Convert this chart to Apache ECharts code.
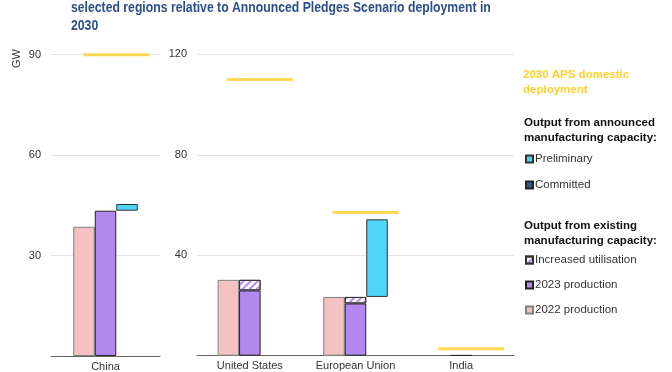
<!DOCTYPE html>
<html><head><meta charset="utf-8">
<script src="https://cdn.jsdelivr.net/npm/echarts@6/dist/echarts.min.js"></script>
<style>html,body{margin:0;padding:0;background:#fff}#c{width:672px;height:372px}</style>
</head><body><div id="c"></div>
<script>
const regions = ['China', 'United States', 'European Union', 'India'];
const prod2022 = [38.6, 30.2, 23.4, 0];
const prod2023 = [43.4, 26.0, 20.8, 0.2];
const increasedUtil = [0, 4.2, 2.6, 0];
const committed = [0, 0, 0, 0];
const preliminary = [2.0, 0, 30.9, 0];
const aps2030 = [90, 110, 57, 2.8];
const leftTicks = [0, 30, 60, 90];
const rightTicks = [0, 40, 80, 120];

const FONT = '"Liberation Sans", Arial, sans-serif';
const base = prod2023.map((v, i) => (preliminary[i] || committed[i]) ? +(v + increasedUtil[i]).toFixed(2) : 0);

const chart = echarts.init(document.getElementById('c'), null, {renderer: 'canvas'});

function part(arr, g) { return g === 0 ? arr.slice(0, 1) : arr.slice(1); }
function nz(arr) { return arr.map(v => v === 0 ? '-' : v); }

const styles = {
  p22: {color: '#f5c2c2', borderColor: '#808080', borderWidth: 1},
  p23: {color: '#b388ee', borderColor: '#222', borderWidth: 1},
  inc: {color: '#ffffff', borderColor: '#333', borderWidth: 1,
        decal: {symbol: 'rect', symbolSize: 1, color: '#b388ee', dashArrayX: [1, 0], dashArrayY: [2, 3], rotation: -Math.PI / 4}},
  com: {color: '#2f5597', borderColor: '#222', borderWidth: 1},
  pre: {color: '#4dd5fb', borderColor: '#333', borderWidth: 1}
};

const series = [];
[0, 1].forEach(g => {
  const common = {type: 'bar', xAxisIndex: g, yAxisIndex: g, barWidth: 21.5, barGap: '0%'};
  series.push(Object.assign({}, common, {name: '2022 production', stack: 'a' + g, data: nz(part(prod2022, g)), itemStyle: styles.p22}));
  series.push(Object.assign({}, common, {name: '2023 production', stack: 'b' + g, data: nz(part(prod2023, g)), itemStyle: styles.p23}));
  series.push(Object.assign({}, common, {name: 'Increased utilisation', stack: 'b' + g,
    data: nz(part(increasedUtil, g)), itemStyle: styles.inc}));
  series.push(Object.assign({}, common, {name: 'base', stack: 'c' + g, data: part(base, g),
    itemStyle: {color: 'rgba(0,0,0,0)', borderWidth: 0}, silent: true}));
  series.push(Object.assign({}, common, {name: 'Committed', stack: 'c' + g,
    data: nz(part(committed, g)), itemStyle: styles.com}));
  series.push(Object.assign({}, common, {name: 'Preliminary', stack: 'c' + g,
    data: nz(part(preliminary, g)), itemStyle: styles.pre}));
  series.push({type: 'scatter', name: '2030 APS domestic deployment', xAxisIndex: g, yAxisIndex: g,
    data: part(aps2030, g), symbol: 'rect', symbolSize: [66, 3], symbolOffset: [g === 0 ? 11 : 10, 0],
    itemStyle: {color: '#ffd02a'}, z: 5});
});

const axisLabel = {color: '#333', fontSize: 11, fontFamily: FONT};
const titleStyle = {fontFamily: FONT, fontWeight: 'bold', fontSize: 15, fill: '#2a4f8c'};
const headStyle = {fontFamily: FONT, fontWeight: 'bold', fontSize: 11.5, fill: '#111', lineHeight: 15};
const legText = {color: '#333', fontSize: 11.5, fontFamily: FONT, padding: [0, 0, 0, -3]};

chart.setOption({
  animation: false,
  grid: [
    {left: 51, top: 54.7, width: 109, height: 304.6},
    {left: 197, top: 54.3, width: 317, height: 301.4}
  ],
  xAxis: [0, 1].map(g => ({type: 'category', gridIndex: g, data: part(regions, g),
    axisTick: {show: false}, axisLine: {lineStyle: {color: '#666', width: 1}},
    axisLabel: Object.assign({}, axisLabel, {margin: 5})})),
  yAxis: [0, 1].map(g => {
    const t = g === 0 ? leftTicks : rightTicks;
    return {type: 'value', gridIndex: g, min: t[0], max: t[t.length - 1], interval: t[1] - t[0],
      axisLine: {show: false}, axisTick: {show: false},
      splitLine: {lineStyle: {color: '#e3e3e3', width: 1}},
      axisLabel: Object.assign({}, axisLabel, {margin: 10, formatter: v => v === 0 ? '' : v})};
  }),
  legend: [
    {orient: 'vertical', left: 525, top: 153, padding: 0, itemWidth: 7, itemHeight: 7, itemGap: 14,
      data: ['Preliminary', 'Committed'], icon: 'rect', selectedMode: false, textStyle: legText},
    {orient: 'vertical', left: 525, top: 254, padding: 0, itemWidth: 7, itemHeight: 7, itemGap: 13,
      data: ['Increased utilisation', '2023 production', '2022 production'], icon: 'rect', selectedMode: false, textStyle: legText}
  ],
  graphic: [
    {type: 'text', x: 71, y: -1, scaleX: 0.815, style: Object.assign({text: 'selected regions relative to Announced Pledges Scenario deployment in\n2030', lineHeight: 18}, titleStyle)},
    {type: 'text', x: 11, y: 68, rotation: Math.PI / 2, style: {text: 'GW', fontFamily: FONT, fontSize: 11, fill: '#333'}},
    {type: 'text', left: 523, top: 67, style: {text: '2030 APS domestic\ndeployment', fontFamily: FONT, fontWeight: 'bold', fontSize: 11.5, fill: '#ffcf2a', lineHeight: 15}},
    {type: 'text', left: 524, top: 115, style: Object.assign({text: 'Output from announced\nmanufacturing capacity:'}, headStyle)},
    {type: 'text', left: 524, top: 218, style: Object.assign({text: 'Output from existing\nmanufacturing capacity:'}, headStyle)}
  ],
  series: series
});
</script></body></html>
